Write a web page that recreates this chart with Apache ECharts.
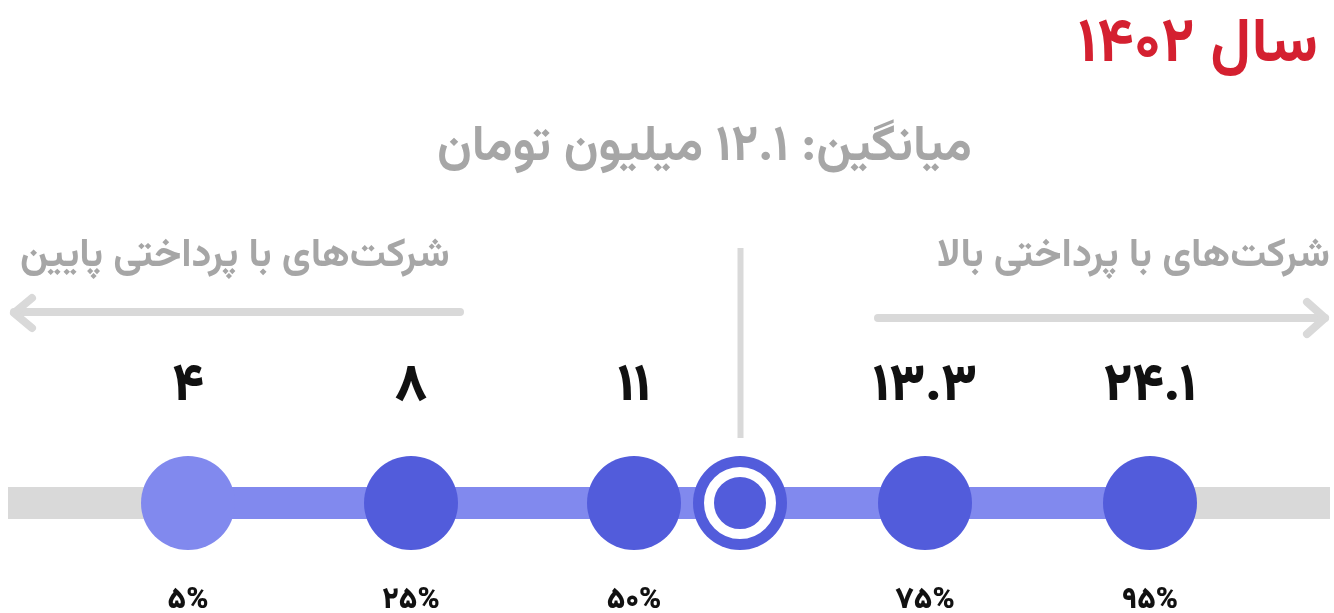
<!DOCTYPE html>
<html>
<head>
<meta charset="utf-8">
<script src="https://cdn.jsdelivr.net/npm/echarts@6/dist/echarts.min.js"></script>
<style>
  html, body { margin: 0; padding: 0; background: #fff; }
  #chart { width: 1334px; height: 613px; }
</style>
</head>
<body>
<div id="chart"></div>
<script>
// متن‌ها
const yearTitle = 'سال ۱۴۰۲';
const meanTitle = 'میانگین: ۱۲.۱ میلیون تومان';
const lowLabel = 'شرکت‌های با پرداختی پایین';
const highLabel = 'شرکت‌های با پرداختی بالا';

// داده‌ها (میلیون تومان)
const percentiles = ['۵%', '۲۵%', '۵۰%', '۷۵%', '۹۵%'];
const values = [4, 8, 11, 13.3, 24.1];
const meanValue = 12.1;

// جای افقی هر نقطه روی محور (واحد محور)
const slotX = [180, 403, 626, 917, 1142];
const meanSlot = 732;

const FONT = 'Vazirmatn, "DejaVu Sans", sans-serif';
const PURPLE = '#525cdb';
const LIGHT = '#8189ee';
const GREY = '#d9d9d9';

const toFa = v => String(v).replace(/\d/g, d => '۰۱۲۳۴۵۶۷۸۹'[d]);

const chart = echarts.init(document.getElementById('chart'));

const option = {
  animation: false,
  title: [
    { text: yearTitle, right: 16, top: 20, padding: 0,
      textStyle: { fontFamily: FONT, fontSize: 62, fontWeight: 'bold', color: '#d42030' } },
    { text: meanTitle, left: 437, top: 127, padding: 0,
      textStyle: { fontFamily: FONT, fontSize: 50, fontWeight: 'bold', color: '#a6a6a6' } },
    { text: lowLabel, left: 20, top: 240, padding: 0,
      textStyle: { fontFamily: FONT, fontSize: 40, fontWeight: 'bold', color: '#a6a6a6' } },
    { text: highLabel, right: 4, top: 240, padding: 0,
      textStyle: { fontFamily: FONT, fontSize: 40, fontWeight: 'bold', color: '#a6a6a6' } }
  ],
  grid: { left: 8, right: 4, top: 403, bottom: 10 },
  xAxis: { type: 'value', min: 0, max: 1322, show: false },
  yAxis: { type: 'value', min: -1, max: 1, show: false },
  series: [
    {
      // نوار خاکستری
      type: 'line', silent: true, symbol: 'none', z: 1,
      data: [[0, 0], [1322, 0]],
      lineStyle: { width: 32, color: GREY, cap: 'butt' }
    },
    {
      // نوار بنفش بین صدک‌ها
      type: 'line', silent: true, symbol: 'none', z: 2,
      data: slotX.map(x => [x, 0]),
      lineStyle: { width: 32, color: LIGHT, cap: 'butt' }
    },
    {
      // دایره‌ها و مقدارها
      type: 'scatter', symbolSize: 94, z: 3,
      data: values.map((v, i) => ({
        value: [slotX[i], 0],
        itemStyle: { color: i === 0 ? LIGHT : PURPLE, opacity: 1 },
        label: { formatter: toFa(v) }
      })),
      label: {
        show: true, position: 'top', distance: 38,
        fontFamily: FONT, fontSize: 52, fontWeight: 900, color: '#111'
      }
    },
    {
      // برچسب صدک‌ها
      type: 'scatter', symbolSize: 94, silent: true, z: 3,
      itemStyle: { color: 'transparent', opacity: 1 },
      data: percentiles.map((p, i) => ({ value: [slotX[i], 0], label: { formatter: p } })),
      label: {
        show: true, position: 'bottom', distance: 38,
        fontFamily: FONT, fontSize: 30, fontWeight: 900, color: '#111'
      }
    },
    {
      // میانگین: حلقه بیرونی
      type: 'scatter', symbolSize: 94, silent: true, z: 3,
      data: [[meanSlot, 0]],
      itemStyle: { color: PURPLE, opacity: 1 }
    },
    {
      // میانگین: حلقه سفید و نقطه
      type: 'scatter', symbolSize: 62, silent: true, z: 4,
      data: [[meanSlot, 0]],
      itemStyle: { color: PURPLE, borderColor: '#fff', borderWidth: 10, opacity: 1 }
    }
  ]
};

chart.setOption(option);

// خط عمودی میانگین و فلش‌ها
const mx = chart.convertToPixel({ xAxisIndex: 0 }, meanSlot);
const lineStyle = { stroke: GREY, lineWidth: 8, fill: null, lineCap: 'round', lineJoin: 'round' };
chart.setOption({
  graphic: [
    { type: 'line', shape: { x1: mx + 0.5, y1: 248, x2: mx + 0.5, y2: 438 },
      style: { stroke: GREY, lineWidth: 6 } },
    { type: 'polyline', shape: { points: [[460, 312], [14, 312]] }, style: lineStyle },
    { type: 'polyline', shape: { points: [[32, 298], [14, 313], [32, 328]] }, style: lineStyle },
    { type: 'polyline', shape: { points: [[878, 318], [1325, 318]] }, style: lineStyle },
    { type: 'polyline', shape: { points: [[1307, 302], [1325, 318], [1307, 334]] }, style: lineStyle }
  ]
});

window.addEventListener('resize', function () {
  chart.resize();
});
</script>
</body>
</html>
